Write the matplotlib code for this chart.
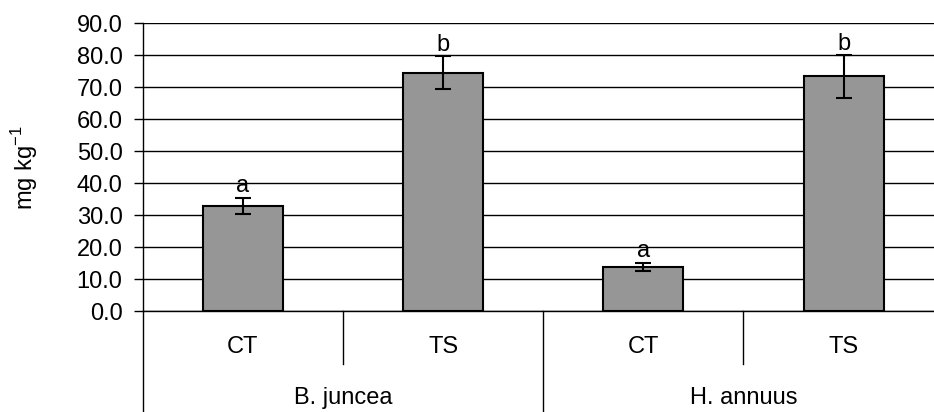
import matplotlib.pyplot as plt
import numpy as np

# valores
especies = ['B. juncea', 'H. annuus']
tratamientos = ['CT', 'TS', 'CT', 'TS']
medias = [32.9, 74.6, 13.9, 73.4]
errores = [2.6, 5.1, 1.2, 6.6]
letras = ['a', 'b', 'a', 'b']

plt.rcParams['font.family'] = ['Liberation Sans', 'DejaVu Sans']
fs = 17

fig = plt.figure(figsize=(9.34, 4.12), dpi=100)
# el area de trazado sale un poco por la derecha, como en la figura original
ax = fig.add_axes([0.1528, 0.2444, 0.8576, 0.699])

x = np.arange(len(medias)) + 0.5
ax.bar(x, medias, width=0.4, color='#969696', edgecolor='black', linewidth=1.5, zorder=3)
ax.errorbar(x, medias, yerr=errores, fmt='none', ecolor='black', elinewidth=1.5,
            capsize=5.5, capthick=1.5, zorder=4)

for xi, m, e, l in zip(x, medias, errores, letras):
    ax.annotate(l, (xi, m + e), xytext=(0, 4), textcoords='offset points',
                ha='center', va='baseline', fontsize=fs)

ax.set_xlim(0, 4)
ax.set_ylim(0, 90)
ax.set_yticks(np.arange(0, 91, 10))
ax.set_yticklabels([f'{v:.1f}' for v in np.arange(0, 91, 10)], fontsize=fs)
ax.tick_params(axis='y', length=6.5, width=1, pad=8)
ax.set_xticks([])
ax.grid(axis='y', color='black', linewidth=1, zorder=0)
ax.set_axisbelow(True)

for s in ['top', 'right']:
    ax.spines[s].set_visible(False)
ax.spines['left'].set_linewidth(1)
ax.spines['bottom'].set_linewidth(1)

ax.set_ylabel('mg kg$^{\\mathregular{-1}}$', fontsize=fs, labelpad=26)

# eje de categorias en dos niveles
trans = ax.get_xaxis_transform()
for xi, t in zip(x, tratamientos):
    ax.text(xi, -0.124, t, transform=trans, ha='center', va='center', fontsize=fs)
for i, e in enumerate(especies):
    ax.text(1 + 2 * i, -0.301, e, transform=trans, ha='center', va='center', fontsize=fs)

ax.plot([0, 0], [0, -0.36], transform=trans, color='black', lw=1, clip_on=False)
ax.plot([2, 2], [0, -0.36], transform=trans, color='black', lw=1, clip_on=False)
for xs in [1, 3]:
    ax.plot([xs, xs], [0, -0.183], transform=trans, color='black', lw=1, clip_on=False)

fig.savefig('out.png', dpi=100)
